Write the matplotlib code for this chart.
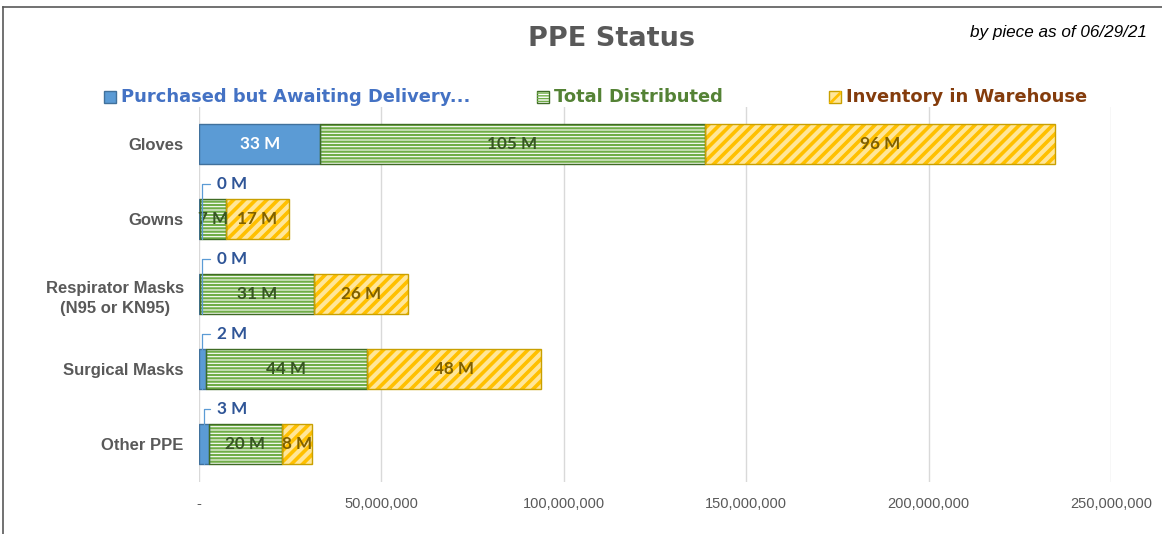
import matplotlib
matplotlib.use('Agg')
import matplotlib.pyplot as plt
from matplotlib.patches import Rectangle
from matplotlib.lines import Line2D

categories = ["Gloves", "Gowns", "Respirator Masks\n(N95 or KN95)", "Surgical Masks", "Other PPE"]
purchased = [33.3e6, 0.3e6, 0.2e6, 1.9e6, 2.7e6]
distributed = [105.3e6, 7.1e6, 31.2e6, 44.1e6, 20.0e6]
inventory = [96.1e6, 17.3e6, 25.8e6, 47.7e6, 8.2e6]
series_names = ["Purchased but Awaiting Delivery...", "Total Distributed", "Inventory in Warehouse"]
xticks = [0, 50e6, 100e6, 150e6, 200e6, 250e6]

GRAY = '#595959'
BLUE_FACE, BLUE_EDGE = '#5B9BD5', '#41719C'
GREEN_HATCH, GREEN_EDGE = '#70AD47', '#3F6B25'
YEL_FACE, YEL_HATCH, YEL_EDGE = '#FFE699', '#FFC000', '#C9A000'

fig = plt.figure(figsize=(11.62, 5.34), dpi=100)
ax = fig.add_axes([199 / 1162, 1 - 481.5 / 534, 912 / 1162, 375 / 534])

ypos = list(range(len(categories)))
h = 0.53


def hatched(left, width, face, hatch, hcolor, edge, hlw):
    with plt.rc_context({'hatch.linewidth': hlw}):
        bars = ax.barh(ypos, width, left=left, height=h, color=face, hatch=hatch,
                       edgecolor=hcolor, linewidth=0, zorder=2)
    for b in bars:
        if hasattr(b, 'set_hatch_linewidth'):
            b.set_hatch_linewidth(hlw)
    ax.barh(ypos, width, left=left, height=h, fill=False, edgecolor=edge,
            linewidth=1.0, zorder=3)
    return bars


b1 = ax.barh(ypos, purchased, height=h, color=BLUE_FACE, edgecolor=BLUE_EDGE,
             linewidth=1.0, zorder=3)
left2 = purchased
b2 = hatched(left2, distributed, 'white', '-----', GREEN_HATCH, GREEN_EDGE, 1.6)
left3 = [a + b for a, b in zip(purchased, distributed)]
b3 = hatched(left3, inventory, YEL_FACE, '///', YEL_HATCH, YEL_EDGE, 2.6)

lab_font = dict(family=['Lato', 'DejaVu Sans'], fontweight='bold', fontsize=12.3)

# value labels
for i in ypos:
    p, d, v = purchased[i], distributed[i], inventory[i]
    if p > 10e6:
        ax.text(p / 2, i, f"{p / 1e6:.0f} M", ha='center', va='center', color='white',
                zorder=5, **lab_font)
    else:
        ax.annotate(f"{p / 1e6:.0f} M", xy=(max(p / 2, 0.9e6), i + 0.26),
                    xytext=(5.0e6, i - 0.47),
                    ha='left', va='center', color='#2F5597', zorder=6,
                    arrowprops=dict(arrowstyle='-', color='#5B9BD5', lw=0.9,
                                    shrinkA=3, shrinkB=0, relpos=(0, 0.5),
                                    connectionstyle='angle,angleA=0,angleB=90,rad=0'),
                    **lab_font)
    ax.text(p + d / 2, i, f"{d / 1e6:.0f} M", ha='center', va='center', color='#375623',
            zorder=5, **lab_font)
    ax.text(p + d + v / 2, i, f"{v / 1e6:.0f} M", ha='center', va='center', color='#7F6000',
            zorder=5, **lab_font)

ax.set_xlim(0, 250e6)
ax.set_ylim(len(categories) - 0.5, -0.5)
ax.set_xticks(xticks)
ax.set_xticklabels(['-'] + [f"{t:,.0f}" for t in xticks[1:]])
ax.set_yticks(ypos)
ax.set_yticklabels(categories, multialignment='center', linespacing=1.45)
for t in ax.get_yticklabels():
    t.set_fontweight('bold')
    t.set_fontfamily('Liberation Sans')
    t.set_fontsize(12)
    t.set_color(GRAY)
for t in ax.get_xticklabels():
    t.set_fontfamily('Liberation Sans')
    t.set_fontsize(10.5)
    t.set_color(GRAY)
ax.tick_params(axis='both', length=0)
ax.tick_params(axis='x', pad=11)
ax.tick_params(axis='y', pad=11)
ax.grid(axis='x', color='#D9D9D9', linewidth=1.0, zorder=0)
ax.set_axisbelow(True)
for s in ax.spines.values():
    s.set_visible(False)

# title and note
fig.text(612 / 1162, 1 - 39 / 534, "PPE Status", ha='center', va='center', fontsize=19.5,
         fontweight='bold', color=GRAY, family='DejaVu Sans')
fig.text(1147 / 1162, 1 - 32 / 534, "by piece as of 06/29/21", ha='right', va='center',
         fontsize=12.3, style='italic', color='black', family='Liberation Sans')

# legend drawn manually
leg_y = 1 - 97 / 534
sq = 12
leg_items = [
    (104, series_names[0], '#4472C4', dict(facecolor=BLUE_FACE, edgecolor=BLUE_EDGE)),
    (537, series_names[1], '#548235', dict(facecolor='white', edgecolor=GREEN_EDGE)),
    (829, series_names[2], '#843C0C', dict(facecolor=YEL_FACE, edgecolor=YEL_EDGE)),
]
for x0, name, col, st in leg_items:
    fig.patches.append(Rectangle((x0 / 1162, leg_y - sq / 2 / 534), sq / 1162, sq / 534,
                                 transform=fig.transFigure, linewidth=1, **st))
    fig.text((x0 + sq + 5) / 1162, leg_y, name, ha='left', va='center', fontsize=12.9,
             fontweight='bold', color=col, family='DejaVu Sans')
with plt.rc_context({'hatch.linewidth': 1.0}):
    r = Rectangle((537 / 1162, leg_y - sq / 2 / 534), sq / 1162, sq / 534,
                  transform=fig.transFigure, facecolor='none', edgecolor=GREEN_HATCH,
                  hatch='------', linewidth=0)
fig.patches.append(r)
with plt.rc_context({'hatch.linewidth': 2.0}):
    r = Rectangle((829 / 1162, leg_y - sq / 2 / 534), sq / 1162, sq / 534,
                  transform=fig.transFigure, facecolor='none', edgecolor=YEL_HATCH,
                  hatch='/', linewidth=0)
fig.patches.append(r)

# outer frame (top and left edges)
fig.lines.append(Line2D([3 / 1162, 3 / 1162], [0, 1 - 7 / 534], transform=fig.transFigure,
                        color='#595959', linewidth=1.2))
fig.lines.append(Line2D([3 / 1162, 1], [1 - 7 / 534, 1 - 7 / 534], transform=fig.transFigure,
                        color='#595959', linewidth=1.2))

fig.savefig('out.png', dpi=100, facecolor='white')
